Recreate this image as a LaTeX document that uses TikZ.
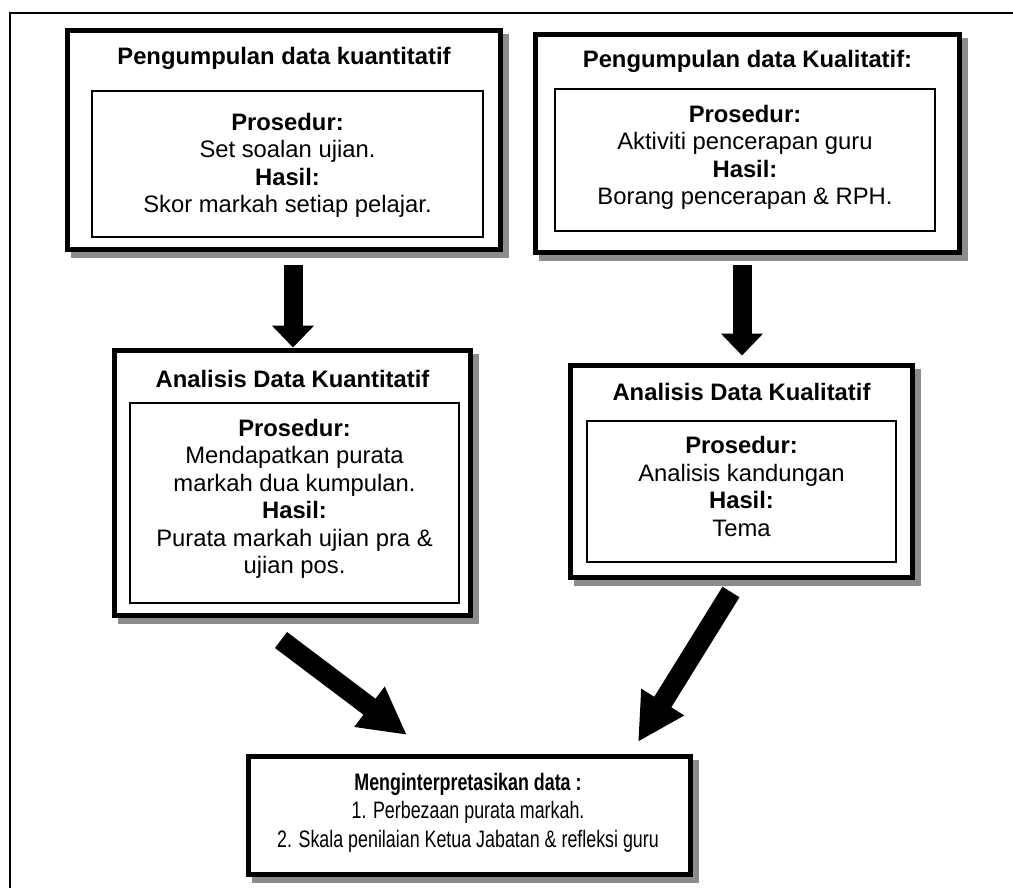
\documentclass[tikz,border=0pt]{standalone}
\usepackage{fontspec}
\setmainfont{Liberation Sans}
\newfontfamily\narrowfont{Liberation Sans}[FakeStretch=0.75]
\usetikzlibrary{arrows.meta,calc}
\pgfdeclarelayer{back}
\pgfdeclarelayer{bg}
\pgfsetlayers{back,bg,main}
\definecolor{shadowgray}{HTML}{8C8C8C}
\tikzset{
  outerbox/.style={draw, line width=5pt, fill=white, outer sep=0pt, inner sep=0pt},
  innerbox/.style={draw, line width=1.5pt, outer sep=0pt, inner sep=0pt},
  titletext/.style={font=\fontsize{23.8pt}{27.5pt}\selectfont\bfseries, anchor=base, inner sep=0pt},
  bodytext/.style={font=\fontsize{23.8pt}{27.5pt}\selectfont, align=center, inner sep=0pt},
  finaltext/.style={font=\narrowfont\fontsize{23.8pt}{28.5pt}\selectfont, align=center, inner sep=0pt},
  varrow/.style={line width=19pt, -{Triangle[length=22pt,width=41pt]}},
  darrow/.style={line width=20pt, -{Triangle[length=47pt,width=47pt]}},
  framestyle/.style={line width=2pt},
}
\begin{document}
\begin{tikzpicture}[x=1pt,y=-1pt]
\useasboundingbox (0,0) rectangle (1013,888);
\begin{pgfonlayer}{back}
  \fill[white] (0,0) rectangle (1013,888);
\end{pgfonlayer}
\draw[framestyle] (9.5,888) -- (9.5,13) -- (1013,13);

% outer boxes
\node[outerbox, minimum width=433pt, minimum height=219pt] (box1) at (284,140) {};
\node[outerbox, minimum width=424pt, minimum height=218pt] (box2) at (747.5,143.5) {};
\node[outerbox, minimum width=356pt, minimum height=265pt] (box3) at (292.5,483) {};
\node[outerbox, minimum width=342pt, minimum height=212pt] (box4) at (741.5,471.5) {};
\node[outerbox, minimum width=442pt, minimum height=118pt] (box5) at (469.5,815.5) {};

% inner boxes
\node[innerbox, minimum width=391pt, minimum height=146pt] (in1) at (287.5,164) {};
\node[innerbox, minimum width=380pt, minimum height=142pt] (in2) at (745,160) {};
\node[innerbox, minimum width=329pt, minimum height=200pt] (in3) at (294.5,503) {};
\node[innerbox, minimum width=309pt, minimum height=141pt] (in4) at (741.5,491.5) {};

% titles
\node[titletext] (t1) at (284,65) {Pengumpulan data kuantitatif};
\node[titletext] (t2) at (747.5,68) {Pengumpulan data Kualitatif:};
\node[titletext] (t3) at (292.5,387) {Analisis Data Kuantitatif};
\node[titletext] (t4) at (741.5,400) {Analisis Data Kualitatif};

% body texts
\node[bodytext] (b1) at (287.5,165.5) {\textbf{Prosedur:}\\Set soalan ujian.\\\textbf{Hasil:}\\Skor markah setiap pelajar.};
\node[bodytext] (b2) at (745,157.5) {\textbf{Prosedur:}\\Aktiviti pencerapan guru\\\textbf{Hasil:}\\Borang pencerapan \& RPH.};
\node[bodytext] (b3) at (294.5,499) {\textbf{Prosedur:}\\Mendapatkan purata\\markah dua kumpulan.\\\textbf{Hasil:}\\Purata markah ujian pra \&\\ujian pos.};
\node[bodytext] (b4) at (741.5,486.5) {\textbf{Prosedur:}\\Analisis kandungan\\\textbf{Hasil:}\\Tema};
\node[finaltext] (b5) at (468,812.5) {\textbf{Menginterpretasikan data :}\\1. Perbezaan purata markah.\\2. Skala penilaian Ketua Jabatan \& refleksi guru};

% shadows
\begin{pgfonlayer}{bg}
  \foreach \b in {box1,box2,box3,box4,box5}
    \fill[shadowgray] ($(\b.south west)+(3.5,8.5)$) rectangle ($(\b.north east)+(8.5,3.5)$);
\end{pgfonlayer}

% arrows
\draw[varrow] ($(box1.south -| box3.north)+(0.5,15.5)$) -- ($(box3.north)+(0.5,-3)$);
\draw[varrow] ($(box2.south -| box4.north)+(0.5,12.5)$) -- ($(box4.north)+(0.5,-10)$);
\draw[darrow] ($(box3.south)+(-11.5,24.5)$) -- ($(box5.north)+(-62.5,-21.5)$);
\draw[darrow] ($(box4.south)+(-10.5,14.5)$) -- ($(box5.north)+(168.5,-14.5)$);
\end{tikzpicture}
\end{document}
